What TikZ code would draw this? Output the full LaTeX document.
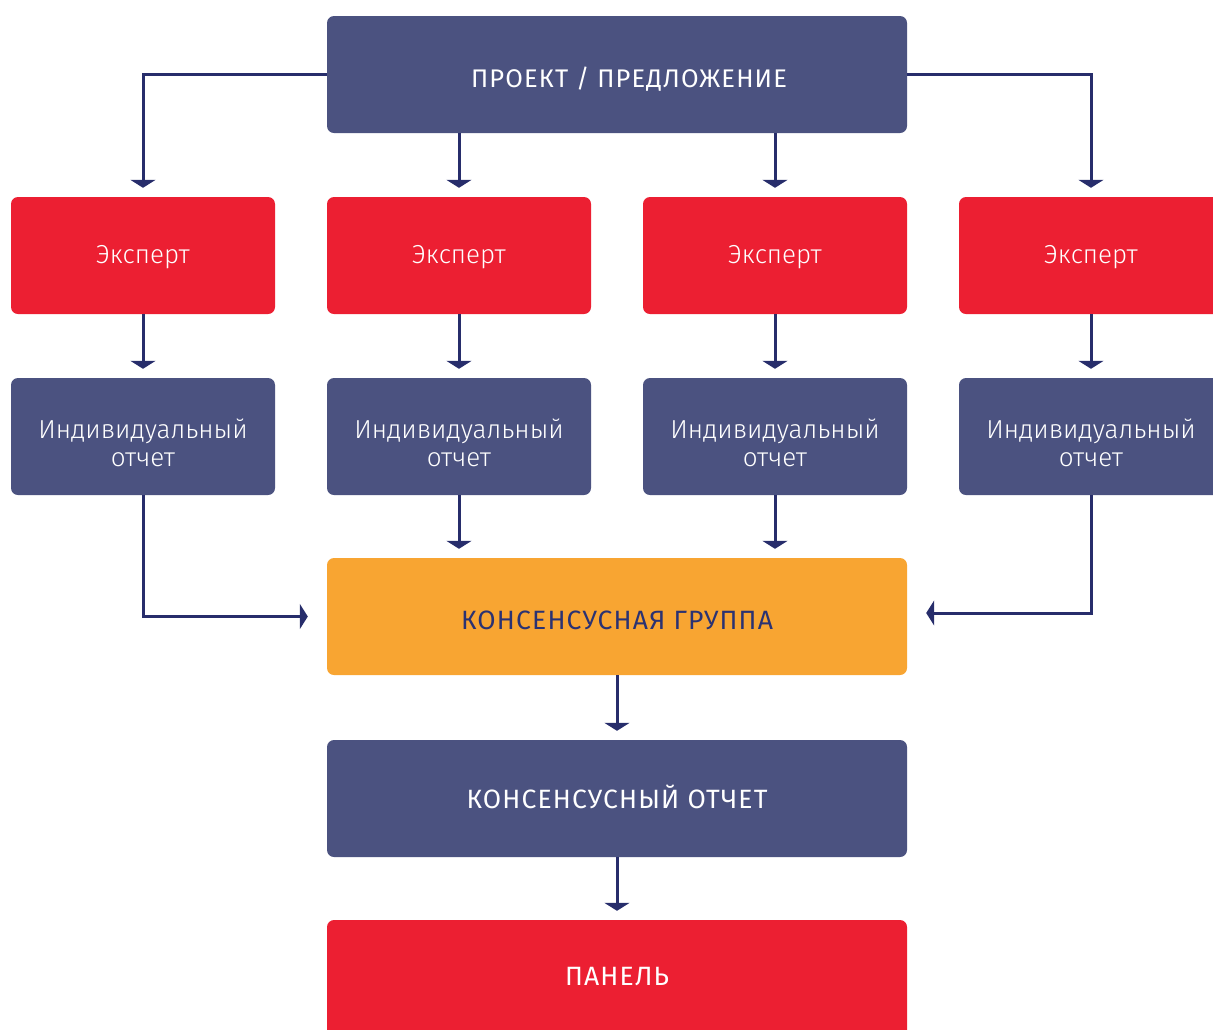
\documentclass[tikz,border=0pt]{standalone}
\usepackage{fontspec}
\setmainfont{Fira Sans}
\newfontfamily\lightf{Fira Sans Light}
\newfontfamily\capf{Fira Sans}[LetterSpace=4.4]
\usetikzlibrary{arrows.meta}
\definecolor{navy}{HTML}{272D6B}
\definecolor{slate}{HTML}{4B5280}
\definecolor{redbox}{HTML}{EC1F32}
\definecolor{orangebox}{HTML}{F8A532}
\definecolor{constext}{HTML}{2B3272}
% place text with its (first) baseline \#1 below the node centre
\newcommand{\bl}[2]{\raisebox{-#1}[0pt][0pt]{#2}}
\tikzset{
  box/.style={rectangle, rounded corners=7pt, draw=none, minimum height=117pt, inner sep=0pt, align=center},
  wide/.style={box, minimum width=580pt},
  small/.style={box, minimum width=264pt},
  caps/.style={font=\capf\fontsize{26.5}{29}\selectfont, text=white},
  topcaps/.style={font=\capf\fontsize{25.5}{29}\selectfont, text=white},
  light/.style={font=\lightf\fontsize{26}{28}\selectfont, text=white},
  conn/.style={draw=navy, line width=3pt, -{Triangle[width=25pt,length=8pt]}},
  vconn/.style={conn, shorten >=9pt},
  hconn/.style={conn, shorten >=19pt}
}
\begin{document}
\begin{tikzpicture}[x=1pt,y=-1pt]
\useasboundingbox (0,0) rectangle (1213,1029);
\node[wide, fill=slate, topcaps] (top) at (617,74.5) {\bl{12.5pt}{\hspace*{24pt}ПРОЕКТ / ПРЕДЛОЖЕНИЕ}};
\foreach \i/\x in {1/143,2/459,3/775,4/1091}{
  \node[small, fill=redbox, light] (e\i) at (\x,255.5) {\bl{7.5pt}{Эксперт}};
  \node[small, fill=slate, light] (r\i) at (\x,436.5) {\bl{1.5pt}{\begin{tabular}[t]{@{}c@{}}Индивидуальный\\отчет\end{tabular}}};
}
\node[wide, fill=orangebox, caps, text=constext] (cons) at (617,616.5) {\bl{12.5pt}{КОНСЕНСУСНАЯ ГРУППА}};
\node[wide, fill=slate, caps] (crep) at (617,798.5) {\bl{9.5pt}{КОНСЕНСУСНЫЙ ОТЧЕТ}};
\node[wide, fill=redbox, caps] (panel) at (617,978.5) {\bl{6.5pt}{ПАНЕЛЬ}};
% top to experts
\draw[vconn] (top.west) -| (e1.north);
\draw[vconn] (top.east) -| (e4.north);
\draw[vconn] (top.south -| e2.north) -- (e2.north);
\draw[vconn] (top.south -| e3.north) -- (e3.north);
% experts to reports
\foreach \i in {1,2,3,4}{
  \draw[vconn] (e\i.south) -- (r\i.north);
}
% reports to consensus
\draw[hconn] (r1.south) |- (cons.west);
\draw[hconn] (r4.south) |- ([yshift=3.5pt]cons.east);
\draw[vconn] (r2.south) -- (r2.south |- cons.north);
\draw[vconn] (r3.south) -- (r3.south |- cons.north);
% chain
\draw[vconn] (cons.south) -- (crep.north);
\draw[vconn] (crep.south) -- (panel.north);
\end{tikzpicture}
\end{document}
